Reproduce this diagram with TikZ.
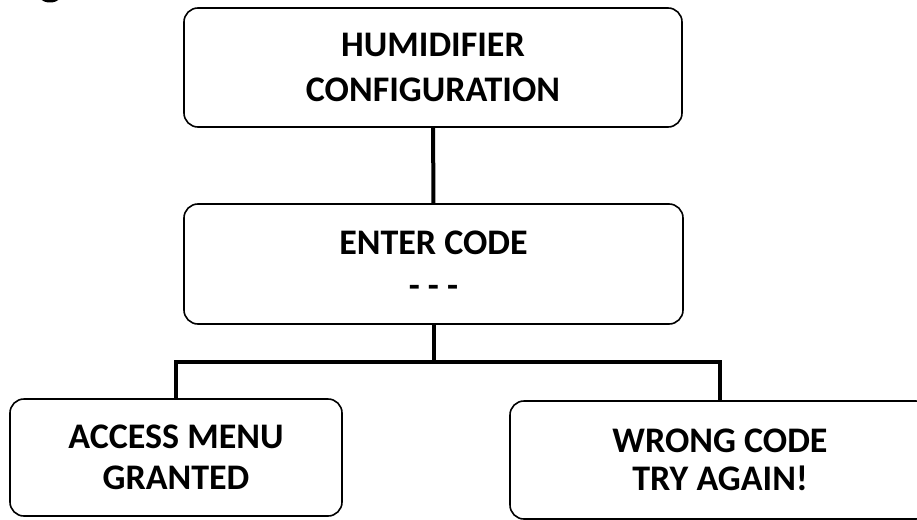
\documentclass[tikz,border=0pt]{standalone}
\usepackage{fontspec}
\setmainfont{Carlito}
\usepackage{tikz}
\usetikzlibrary{positioning,calc}

\begin{document}
\begin{tikzpicture}[x=1pt, y=-1pt, state/.style={draw=black, line width=1.6pt, rounded corners=14pt, align=center, inner sep=0pt, font=\fontsize{36}{43}\selectfont\bfseries}, link/.style={draw=black, line width=4pt}]
\clip (0,0) rectangle (917,519);
\fill[black] (50,-9) ellipse (14 and 11.5);
\node[state, minimum width=498pt, minimum height=119pt] (cfg) at (433,67.5) {HUMIDIFIER\\[2pt]CONFIGURATION};
\node[state, minimum width=499pt, minimum height=120pt] (code) at (433.5,264) {ENTER CODE\\- - -};
\node[state, minimum width=332pt, minimum height=117pt] (granted) at (176,457.5) {ACCESS MENU\\[-2pt]GRANTED};
\node[state, minimum width=420pt, minimum height=118pt] (wrong) at (720,460) {WRONG CODE\\[-5pt]TRY AGAIN!};
\coordinate (split) at (433.5,362);
\draw[link] (cfg) -- (code);
\draw[link] (code) -- (split);
\draw[link] (granted.north) |- (split) -| (wrong.north);
\end{tikzpicture}
\end{document}
